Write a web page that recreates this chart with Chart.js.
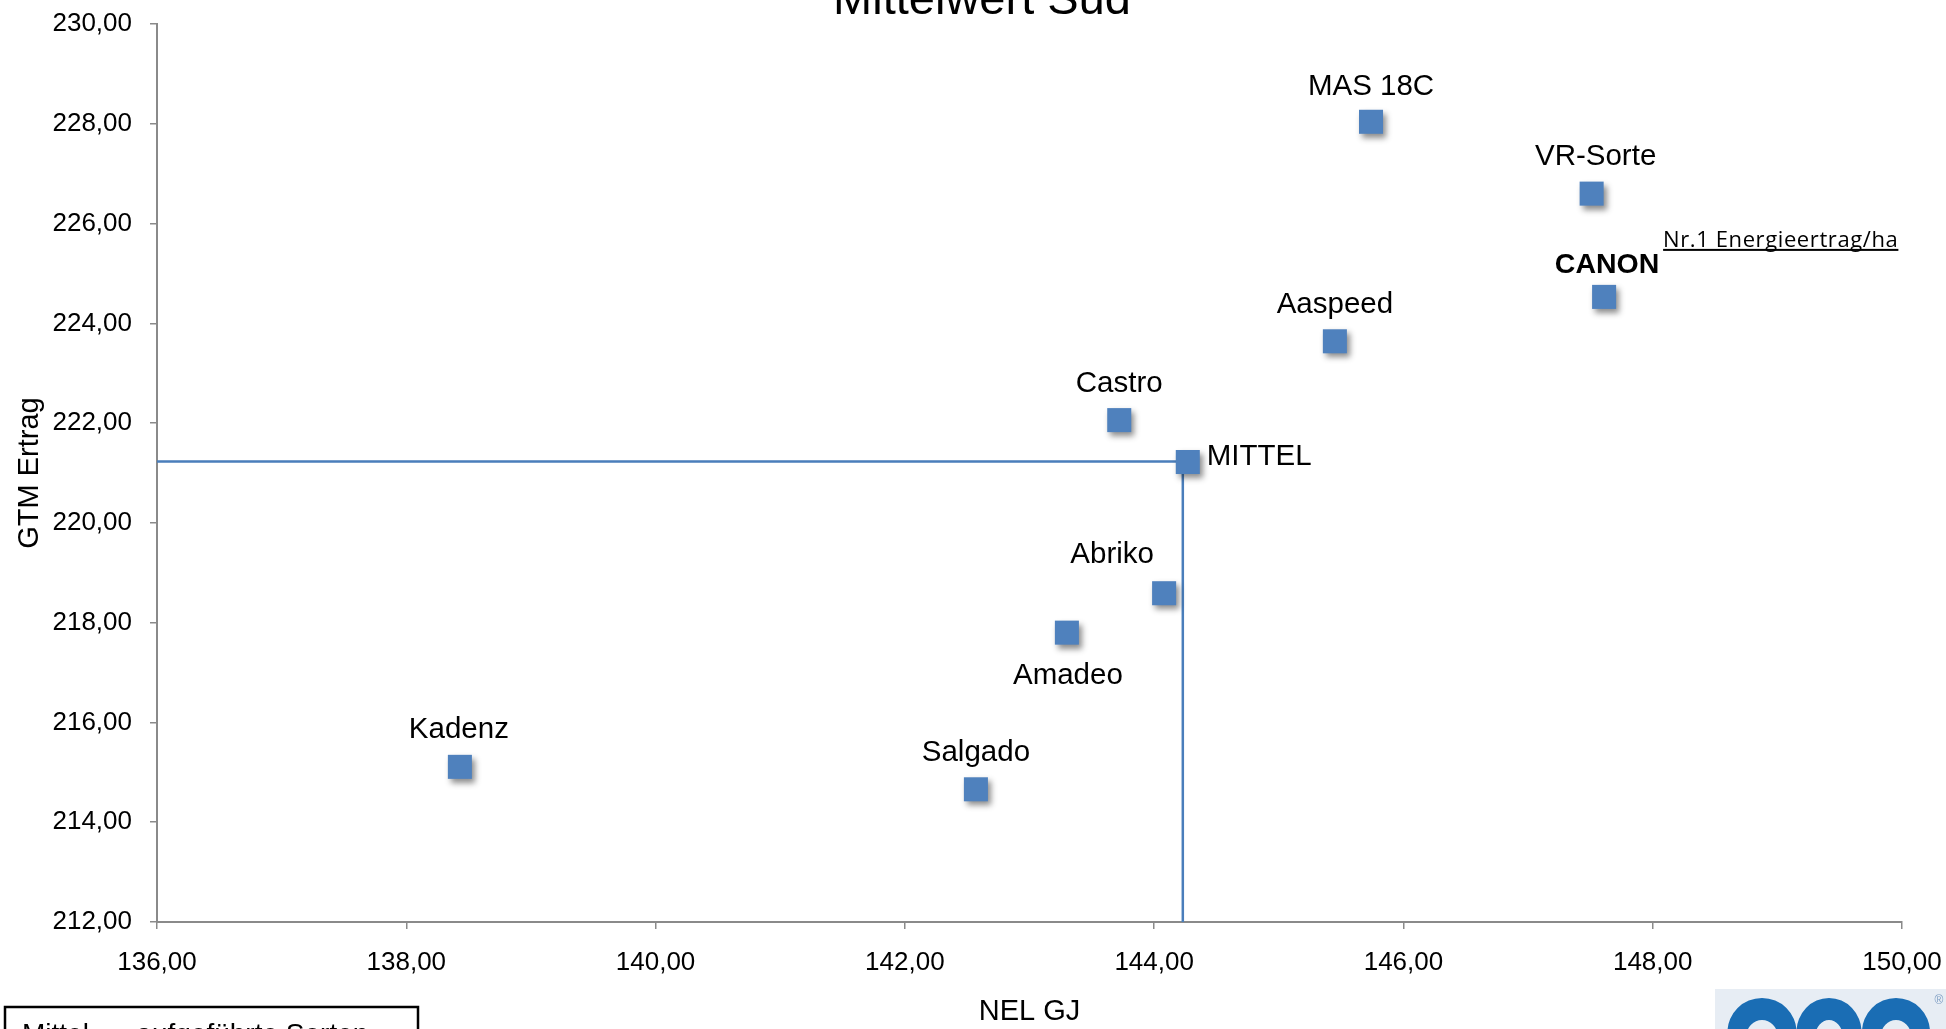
<!DOCTYPE html>
<html><head><meta charset="utf-8">
<script src="https://cdn.jsdelivr.net/npm/chart.js@4/dist/chart.umd.min.js"></script>
<style>html,body{margin:0;padding:0;background:#fff;overflow:hidden}#wrap{position:relative;width:1946px;height:1029px}</style>
</head><body><div id="wrap"><canvas id="c"></canvas></div>
<script>
// ---- data ----
const sorten    = ['MAS 18C','VR-Sorte','CANON','Aaspeed','Castro','MITTEL','Abriko','Amadeo','Kadenz','Salgado'];
const nelGJ     = [145.74, 147.51, 147.61, 145.45, 143.72, 144.27, 144.08, 143.30, 138.43, 142.57];
const gtmErtrag = [228.04, 226.60, 224.53, 223.64, 222.06, 221.22, 218.59, 217.80, 215.11, 214.66];
const mittelLinieX = [136.00, 144.23, 144.23];
const mittelLinieY = [221.23, 221.23, 212.00];
const xTicks = [136, 138, 140, 142, 144, 146, 148, 150];
const yTicks = [212, 214, 216, 218, 220, 222, 224, 226, 228, 230];
const chartTitle = 'Mittelwert Süd';
const xTitle = 'NEL GJ';
const yTitle = 'GTM Ertrag';
const canonNote = 'Nr.1 Energieertrag/ha';
const legendText = 'Mittel  =  aufgeführte Sorten';

// ---- style / label layout ----
const FONT = '"Liberation Sans", Arial, Helvetica, sans-serif';
const BLUE = '#4F81BD';
const labelLayout = {
  'MAS 18C': {dx: 0, dy: -35},
  'VR-Sorte': {dx: 4, dy: -37},
  'CANON': {dx: 3, dy: -32, bold: true},
  'Aaspeed': {dx: 0, dy: -36},
  'Castro': {dx: 0, dy: -36},
  'MITTEL': {dx: 19, dy: -5, align: 'left'},
  'Abriko': {dx: -52, dy: -38},
  'Amadeo': {dx: 1, dy: 43},
  'Kadenz': {dx: -1, dy: -37},
  'Salgado': {dx: 0, dy: -36}
};
const fmt = v => Number(v).toFixed(2).replace('.', ',');

const pointsData = sorten.map((s, i) => ({x: nelGJ[i], y: gtmErtrag[i]}));
const lineData = mittelLinieX.map((x, i) => ({x: x, y: mittelLinieY[i]}));

const decor = {
  id: 'decor',
  beforeDatasetDraw(chart, args) {
    if (args.index === 0) {
      const ctx = chart.ctx;
      ctx.save();
      ctx.shadowColor = 'rgba(0,0,0,0.45)';
      ctx.shadowBlur = 6;
      ctx.shadowOffsetX = 3;
      ctx.shadowOffsetY = 4;
    }
  },
  afterDatasetDraw(chart, args) {
    if (args.index === 0) chart.ctx.restore();
  },
  afterDatasetsDraw(chart) {
    const ctx = chart.ctx;
    const meta = chart.getDatasetMeta(0);
    ctx.save();
    ctx.fillStyle = '#000';
    ctx.textBaseline = 'middle';
    meta.data.forEach((el, i) => {
      const name = sorten[i];
      const L = labelLayout[name] || {dx: 0, dy: -36};
      ctx.font = (L.bold ? 'bold 28.5px ' : '29.5px ') + FONT;
      ctx.textAlign = L.align || 'center';
      ctx.fillText(name, el.x + L.dx, el.y + L.dy);
      if (name === 'CANON') {
        ctx.font = '22px "Open Sans", "Noto Sans", sans-serif';
        ctx.letterSpacing = '0.6px';
        ctx.textAlign = 'left';
        ctx.textBaseline = 'alphabetic';
        const tx = el.x + 59, ty = el.y - 50;
        ctx.fillText(canonNote, tx, ty);
        const w = ctx.measureText(canonNote).width;
        ctx.fillRect(tx, ty + 2, w, 2);
        ctx.letterSpacing = '0px';
        ctx.textBaseline = 'middle';
      }
    });
    ctx.restore();
  },
  afterDraw(chart) {
    const ctx = chart.ctx;
    ctx.save();
    // title (cut at top)
    ctx.fillStyle = '#000';
    ctx.font = '47px ' + FONT;
    ctx.textAlign = 'center';
    ctx.textBaseline = 'alphabetic';
    ctx.fillText(chartTitle, 982, 14);
    // legend box bottom-left
    ctx.strokeStyle = '#000';
    ctx.lineWidth = 2.5;
    ctx.strokeRect(5, 1007, 413, 60);
    ctx.font = '28px ' + FONT;
    ctx.textAlign = 'left';
    ctx.fillText(legendText, 22, 1043);
    // logo bottom-right
    ctx.fillStyle = '#e7edf4';
    ctx.fillRect(1715, 989, 240, 60);
    ctx.fillStyle = '#1a6db4';
    const humps = [[1762, 1728, 1797], [1829, 1797, 1862], [1896, 1862, 1930]];
    humps.forEach(h => {
      ctx.beginPath();
      ctx.ellipse(h[0], 1032, (h[2] - h[1]) / 2, 34, 0, Math.PI, 2 * Math.PI);
      ctx.ellipse(h[0], 1036, (h[2] - h[1]) / 2 - 19, 16, 0, 2 * Math.PI, Math.PI, true);
      ctx.closePath();
      ctx.fill();
    });
    ctx.fillStyle = '#7f9fc4';
    ctx.font = '12px ' + FONT;
    ctx.textAlign = 'center';
    ctx.textBaseline = 'middle';
    ctx.fillText('®', 1939, 1001);
    ctx.restore();
  }
};

const noPad = s => { s.paddingTop = 0; s.paddingBottom = 0; s.paddingLeft = 0; s.paddingRight = 0; };

new Chart(document.getElementById('c'), {
  type: 'scatter',
  data: {
    datasets: [
      {
        label: 'Sorten',
        data: pointsData,
        pointStyle: 'rect',
        pointRadius: 17,
        pointHoverRadius: 17,
        backgroundColor: BLUE,
        borderWidth: 0,
        order: 1
      },
      {
        label: 'Mittel',
        data: lineData,
        showLine: true,
        borderColor: '#4A7EBB',
        borderWidth: 2.5,
        pointRadius: 0,
        fill: false,
        order: 2
      }
    ]
  },
  options: {
    responsive: true,
    maintainAspectRatio: false,
    animation: false,
    events: [],
    layout: {padding: {left: 0, right: 44, top: 24, bottom: 0}},
    plugins: {legend: {display: false}, tooltip: {enabled: false}, title: {display: false}},
    scales: {
      x: {
        type: 'linear',
        min: 136, max: 150,
        afterBuildTicks: s => { s.ticks = xTicks.map(v => ({value: v})); },
        afterFit: s => { s.height = 107; noPad(s); },
        grid: {drawOnChartArea: false, drawTicks: true, tickLength: 7, color: '#8a8a8a', lineWidth: 1.5},
        border: {display: true, color: '#8a8a8a', width: 2},
        ticks: {color: '#000', font: {family: FONT, size: 26}, padding: 18, maxRotation: 0, callback: v => fmt(v)},
        title: {display: true, text: xTitle, color: '#000', font: {family: FONT, size: 29}, padding: {top: 0, bottom: 0}}
      },
      y: {
        type: 'linear',
        min: 212, max: 230,
        afterBuildTicks: s => { s.ticks = yTicks.map(v => ({value: v})); },
        afterFit: s => { s.width = 157; noPad(s); },
        grid: {drawOnChartArea: false, drawTicks: true, tickLength: 7, color: '#8a8a8a', lineWidth: 1.5},
        border: {display: true, color: '#8a8a8a', width: 2},
        ticks: {color: '#000', font: {family: FONT, size: 26}, padding: 18, callback: v => fmt(v)},
        title: {display: true, text: yTitle, color: '#000', font: {family: FONT, size: 29}, padding: {top: 13, bottom: 0}}
      }
    }
  },
  plugins: [decor]
});
</script>
</body></html>
